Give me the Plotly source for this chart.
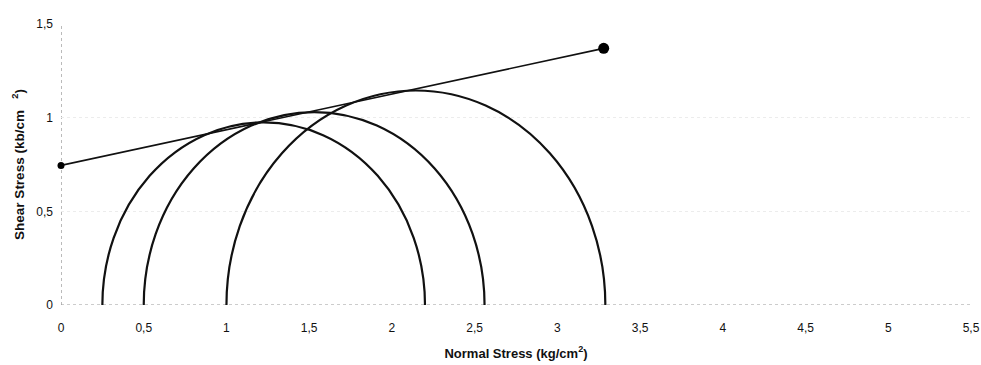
import plotly.graph_objects as go

# Mohr circle test data (kg/cm^2): minor and major principal stresses
sigma3 = [0.25, 0.50, 1.00]
sigma1 = [2.20, 2.56, 3.29]

# Failure envelope endpoints (normal stress, shear stress)
env_x = [0.0, 3.28]
env_y = [0.745, 1.37]
env_marker_size = [7, 11]

x_ticks = [0, 0.5, 1, 1.5, 2, 2.5, 3, 3.5, 4, 4.5, 5, 5.5]
y_ticks = [0, 0.5, 1, 1.5]

FONT = "Arial, 'Liberation Sans', sans-serif"

fig = go.Figure()

# Envelope line
fig.add_trace(go.Scatter(
    x=env_x, y=env_y, mode="lines+markers",
    line=dict(color="#111111", width=1.6),
    marker=dict(color="#000000", size=env_marker_size, opacity=1,
                line=dict(width=0)),
    cliponaxis=False,
    showlegend=False, hoverinfo="skip",
))

# Mohr circles: full circles in data coordinates, lower half clipped by the axis
shapes = []
for s3, s1 in zip(sigma3, sigma1):
    r = (s1 - s3) / 2
    shapes.append(dict(
        type="circle", xref="x", yref="y",
        x0=s3, x1=s1, y0=-r, y1=r,
        line=dict(color="#111111", width=2.2),
        layer="above",
    ))

# Dotted axis lines
shapes.append(dict(type="line", xref="x", yref="y", x0=0, x1=0, y0=0, y1=1.5,
                   line=dict(color="#777777", width=1, dash="dot"), layer="below"))
shapes.append(dict(type="line", xref="x", yref="y", x0=0, x1=5.55, y0=0, y1=0,
                   line=dict(color="#999999", width=1, dash="dot"), layer="below"))

fig.update_layout(
    width=981, height=365,
    margin=dict(l=61, r=10, t=24, b=60),
    paper_bgcolor="white", plot_bgcolor="white",
    separators=", ",
    font=dict(family=FONT, size=12, color="#111111"),
    shapes=shapes,
    showlegend=False,
)

fig.update_xaxes(
    range=[0, 5.5], tickvals=x_ticks, showgrid=False, zeroline=False,
    showline=False, ticks="", ticklabelstandoff=14,
    tickfont=dict(size=12, family=FONT, color="#111111"),
    title=dict(text="<b>Normal Stress (kg/cm<sup>2</sup>)</b>",
               font=dict(size=13, family=FONT, color="#111111"), standoff=14),
    automargin=False,
)
fig.update_yaxes(
    range=[0, 1.5], tickvals=y_ticks, showgrid=True, gridcolor="#ececec",
    griddash="dot", gridwidth=1, zeroline=False, showline=False, ticks="",
    ticklabelstandoff=7,
    tickfont=dict(size=12, family=FONT, color="#111111"),
    title=dict(text="<b>Shear Stress (kb/cm   <sup>2</sup>)</b>",
               font=dict(size=13.5, family=FONT, color="#111111"), standoff=8),
    automargin=False,
)

fig.write_html("out.html")
